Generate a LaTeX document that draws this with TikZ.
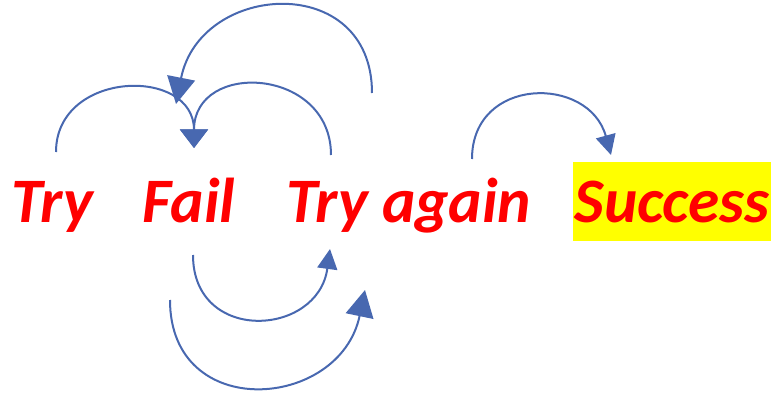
\documentclass[tikz,border=0pt]{standalone}
\usepackage{fontspec}
\setmainfont{Carlito}
\usetikzlibrary{arrows.meta}
\definecolor{arcblue}{RGB}{72,104,176}
\definecolor{txtred}{RGB}{255,0,0}
\definecolor{hiyellow}{RGB}{255,255,0}
\begin{document}
\begin{tikzpicture}[x=0.75pt,y=-0.75pt,
  word/.style={font=\fontsize{47.5}{57}\selectfont\bfseries\itshape, text=txtred, inner sep=0pt, anchor=base west},
  arcline/.style={draw=arcblue, line width=1.5pt},
  tipsmall/.style={-{Triangle[length=15pt,width=15pt]}},
  tipmid/.style={-{Triangle[length=14pt,width=21pt]}},
  tiplarge/.style={-{Triangle[length=20pt,width=21pt]}}
]
\useasboundingbox (0,0) rectangle (776,393);
% words
\node[word] (try) at (11,222) {Try};
\node[word] (fail) at (142,222) {Fail};
\node[word] (again) at (286,222) {Try again};
\node[word, anchor=center, fill=hiyellow, minimum width=148.5pt, minimum height=59.25pt] (success) at (672,201.5) {Success};
% arc end points
\coordinate (a1s) at (56,152);
\coordinate (a1e) at (194,148);
\coordinate (a2s) at (331,155);
\coordinate (a3s) at (372,93);
\coordinate (a3e) at (176,104);
\coordinate (a4s) at (472,159);
\coordinate (a4e) at (611,155);
\coordinate (a5s) at (193,255);
\coordinate (a5e) at (330,249);
\coordinate (a6s) at (170,300);
\coordinate (a6e) at (365,290);
% arcs
\draw[arcline, tipmid] (a1s) .. controls (56,70) and (194,66) .. (a1e);
\draw[arcline, tipmid] (a2s) .. controls (331,67) and (194,60) .. (a1e);
\draw[arcline, tiplarge] (a3s) .. controls (372,-29) and (200,-18) .. (a3e);
\draw[arcline, tipsmall] (a4s) .. controls (472,76) and (589,75) .. (a4e);
\draw[arcline, tipsmall] (a5s) .. controls (193,344) and (318,337) .. (a5e);
\draw[arcline, tiplarge] (a6s) .. controls (170,423) and (340,410) .. (a6e);
\end{tikzpicture}
\end{document}
